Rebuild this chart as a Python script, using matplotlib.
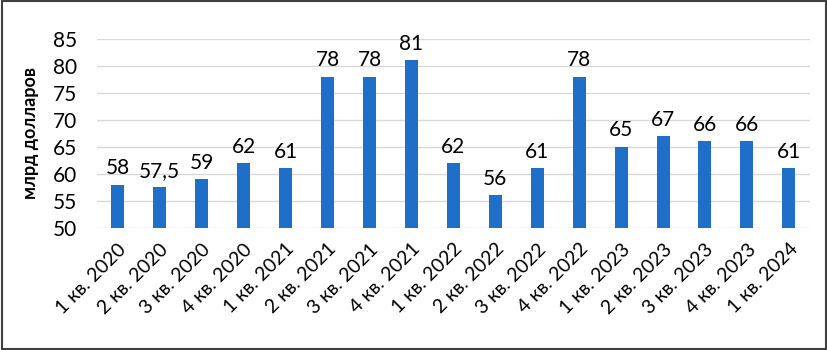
import matplotlib.pyplot as plt
from matplotlib.patches import Rectangle

plt.rcParams['font.family'] = ['Lato', 'Open Sans', 'DejaVu Sans']

quarters = ["1 кв. 2020", "2 кв. 2020", "3 кв. 2020", "4 кв. 2020",
            "1 кв. 2021", "2 кв. 2021", "3 кв. 2021", "4 кв. 2021",
            "1 кв. 2022", "2 кв. 2022", "3 кв. 2022", "4 кв. 2022",
            "1 кв. 2023", "2 кв. 2023", "3 кв. 2023", "4 кв. 2023",
            "1 кв. 2024"]
values = [58, 57.5, 59, 62, 61, 78, 78, 81, 62, 56, 61, 78, 65, 67, 66, 66, 61]

fig = plt.figure(figsize=(8.28, 3.5), dpi=100)
ax = fig.add_axes([0.117, 0.349, 0.861, 0.54])

x = range(len(values))
ax.bar(x, values, width=0.31, color='#1F6FC8', zorder=3)

for xi, v in zip(x, values):
    txt = f"{v:g}".replace('.', ',')
    ax.text(xi, v + 1.2, txt, ha='center', va='bottom', fontsize=15)

ax.set_ylim(50, 85)
ax.set_xlim(-0.5, len(values) - 0.5)
ax.set_yticks(range(50, 86, 5))
ax.yaxis.grid(True, color='#D9D9D9', linewidth=1, zorder=0)
ax.tick_params(axis='both', length=0, labelsize=15)
ax.tick_params(axis='y', pad=14)
ax.tick_params(axis='x', pad=9, labelsize=14)
for s in ax.spines.values():
    s.set_visible(False)

ax.set_xticks(list(x))
ax.set_xticklabels(quarters, rotation=45, ha='right', rotation_mode='anchor')

ax.set_ylabel("млрд долларов", fontsize=13, fontweight='bold', labelpad=10)

# border around the whole picture
fig.patches.append(Rectangle((0.002, 0.003), 0.996, 0.994, transform=fig.transFigure,
                             fill=False, edgecolor='#404040', linewidth=1.5))

fig.savefig("out.png", dpi=100)
